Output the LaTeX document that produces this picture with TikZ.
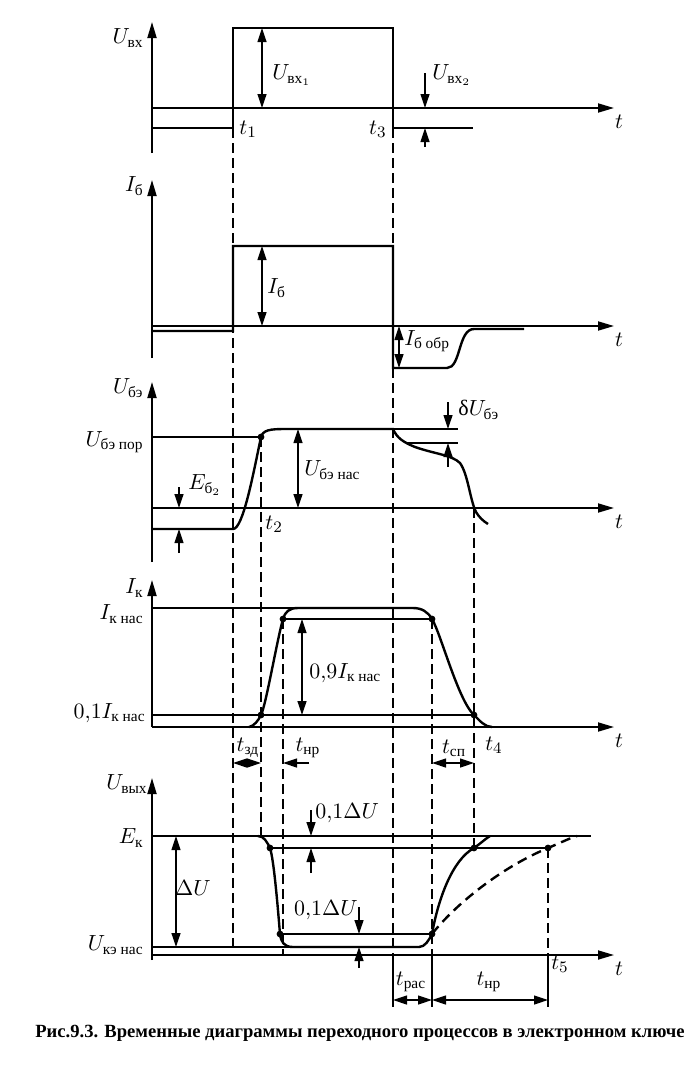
\documentclass[tikz,border=0pt]{standalone}
\usepackage{amsmath}
\usepackage{fontspec}
\setmainfont{Liberation Serif}
\usetikzlibrary{arrows.meta}
\begin{document}
\begin{tikzpicture}[x=0.5pt,y=-0.5pt,
  every node/.style={font=\fontsize{11}{13}\selectfont,inner sep=1pt},
  ax/.style={line width=0.9pt,-{Triangle[length=8pt,width=4.5pt]}},
  sig/.style={line width=1.2pt},
  lvl/.style={line width=0.6pt},
  dsh/.style={line width=0.7pt,dash pattern=on 5pt off 2.5pt},
  dim/.style={line width=0.6pt,{Triangle[length=7pt,width=4.5pt]}-{Triangle[length=7pt,width=4.5pt]}},
  ptr/.style={line width=0.6pt,-{Triangle[length=7pt,width=4.5pt]}}]
\useasboundingbox (0,0) rectangle (700,1088);
\foreach \y/\a/\b/\n in {108/22/153/1,326/180/358/2,508/382/562/3,727/580/727/4,955/778/960/5} {
  \draw[ax] (152,\b) -- (152,\a);
  \draw[ax] (152,\y) -- (614,\y);
  \node (T\n) at (619,\y+14) {$t$};
}
\foreach \x/\a/\b in {233/128/947,393/128/955,261/437/836,283/619/955,432/619/955,474/508/848,548/848/955} {
  \draw[dsh] (\x,\a) -- (\x,\b);
}
\foreach \x in {393,432,548} {
  \draw[lvl] (\x,955) -- (\x,1007);
}
% U_vx
\draw[sig] (152,128) -- (233,128) -- (233,28) -- (393,28) -- (393,128) -- (473,128);
\draw[dim] (262,28) -- (262,108);
\draw[ptr] (425,73) -- (425,108);
\draw[ptr] (425,147) -- (425,128);
\node[anchor=east] (Uin) at (146,38) {$U_{\text{вх}}$};
\node[anchor=west] (Uin1) at (270,75) {$U_{\text{вх}_1}$};
\node[anchor=west] (Uin2) at (430,75) {$U_{\text{вх}_2}$};
\node[anchor=west] (t1) at (237,129) {$t_1$};
\node[anchor=east] (t3) at (389,129) {$t_3$};
% I_b
\draw[sig] (152,331) -- (233,331) -- (233,246) -- (393,246) -- (393,368) -- (447,368) .. controls (461,368) and (458,329) .. (474,329) -- (524,329);
\draw[dim] (262,246) -- (262,326);
\draw[dim] (399,326) -- (399,368);
\node[anchor=east] (Ib) at (146,186) {$I_{\text{б}}$};
\node[anchor=west] (Ib1) at (265,288) {$I_{\text{б}}$};
\node[anchor=west] (Ibr) at (402,341) {$I_{\text{б обр}}$};
% U_be
\draw[lvl] (152,437) -- (261,437);
\draw[lvl] (393,429) -- (458,429);
\draw[lvl] (406,443) -- (458,443);
\draw[sig] (152,529) -- (233,529) .. controls (243,529) and (253,475) .. (261,437) .. controls (263,430) and (270,429) .. (285,429) -- (393,429) .. controls (397,438) and (403,442) .. (415,447) .. controls (435,454) and (452,455) .. (460,463) .. controls (468,474) and (470,500) .. (476,512) .. controls (479,517) and (483,521) .. (488,524);
\draw[ptr] (179,487) -- (179,508);
\draw[ptr] (179,553) -- (179,529);
\draw[dim] (298,429) -- (298,508);
\draw[ptr] (448,402) -- (448,429);
\draw[ptr] (448,467) -- (448,443);
\node[anchor=east] (Ube) at (146,388) {$U_{\text{бэ}}$};
\node[anchor=east] (Upor) at (146,442) {$U_{\text{бэ пор}}$};
\node[anchor=west] (Eb) at (186,485) {$E_{\text{б}_2}$};
\node[anchor=west] (t2) at (263,524) {$t_2$};
\node[anchor=west] (Unas) at (302,470) {$U_{\text{бэ нас}}$};
\node[anchor=west] (dUbe) at (456,410) {$\text{δ}U_{\text{бэ}}$};
% I_k
\draw[lvl] (152,608) -- (298,608);
\draw[lvl] (283,619) -- (432,619);
\draw[lvl] (152,715) -- (474,715);
\draw[sig] (249,727) .. controls (254,726) and (258,721) .. (261,715) .. controls (266,705) and (277,640) .. (283,619) .. controls (285,612) and (289,608) .. (298,608) -- (413,608) .. controls (422,608) and (428,612) .. (432,619) .. controls (441,634) and (458,700) .. (474,715) .. controls (480,721) and (485,727) .. (492,727);
\draw[dim] (302,619) -- (302,715);
\draw[dim] (233,763) -- (261,763);
\draw[ptr] (309,763) -- (283,763);
\draw[dim] (432,763) -- (474,763);
\node[anchor=east] (Ik) at (146,588) {$I_{\text{к}}$};
\node[anchor=east] (Iknas) at (146,614) {$I_{\text{к нас}}$};
\node[anchor=east] (Ik01) at (148,713) {$0{,}1I_{\text{к нас}}$};
\node[anchor=west] (Ik09) at (307,673) {$0{,}9I_{\text{к нас}}$};
\node (tzd) at (248,748) {$t_{\text{зд}}$};
\node (tnr) at (308,748) {$t_{\text{нр}}$};
\node (tsp) at (454,748) {$t_{\text{сп}}$};
\node (t4) at (494,745) {$t_4$};
% U_vyx
\draw[line width=0.9pt] (152,836) -- (591,836);
\draw[lvl] (270,848) -- (548,848);
\draw[lvl] (280,934) -- (432,934);
\draw[lvl] (152,947) -- (293,947);
\draw[sig] (258,836) .. controls (264,836) and (267,842) .. (270,848) .. controls (274,860) and (278,910) .. (280,934) .. controls (281,942) and (284,947) .. (293,947) -- (419,947) .. controls (425,947) and (429,940) .. (432,934) .. controls (438,900) and (452,860) .. (474,848) .. controls (480,844) and (485,839) .. (490,836);
\draw[sig,dash pattern=on 5pt off 3pt] (432,934) .. controls (455,905) and (500,868) .. (548,848) .. controls (560,843) and (570,838) .. (577,836);
\draw[dim] (176,836) -- (176,947);
\draw[ptr] (311,810) -- (311,836);
\draw[ptr] (311,873) -- (311,848);
\draw[ptr] (359,907) -- (359,934);
\draw[ptr] (359,968) -- (359,947);
\draw[dim] (393,1000) -- (432,1000);
\draw[dim] (432,1000) -- (548,1000);
\node[anchor=east] (Uout) at (150,784) {$U_{\text{вых}}$};
\node[anchor=east] (Ek) at (146,838) {$E_{\text{к}}$};
\node (dU) at (193,888) {$\Delta U$};
\node[anchor=west] (dU1) at (313,813) {$0{,}1\Delta U$};
\node (dU2) at (326,910) {$0{,}1\Delta U$};
\node[anchor=east] (Uke) at (146,945) {$U_{\text{кэ нас}}$};
\node (t5) at (560,964) {$t_5$};
\node (tras) at (411,982) {$t_{\text{рас}}$};
\node (tnr2) at (489,982) {$t_{\text{нр}}$};
\foreach \x/\y in {261/437,261/715,283/619,432/619,474/715,270/848,280/934,432/934,474/848,548/848} {
  \fill (\x,\y) circle (1.7pt);
}
\node[font=\bfseries\fontsize{9.3}{11}\selectfont] (cap) at (360,1033) {Рис.9.3. Временные диаграммы переходного процессов в электронном ключе};
\end{tikzpicture}
\end{document}
